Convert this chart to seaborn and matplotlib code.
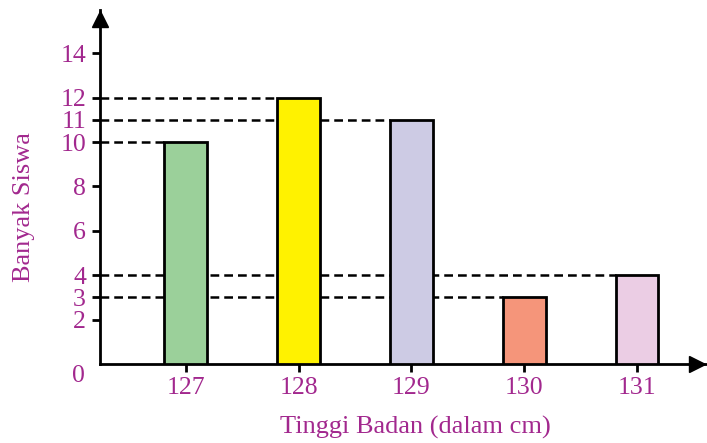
import matplotlib.pyplot as plt
import seaborn as sns
import pandas as pd

# Data
heights = ['127', '128', '129', '130', '131']
students = [10, 12, 11, 3, 4]
bar_colors = ['#9bd09a', '#fff200', '#cdcbe4', '#f5957a', '#ebcde4']
ytick_values = [2, 3, 4, 6, 8, 10, 11, 12, 14]

text_color = '#a2288e'

sns.set_style('white')
plt.rcParams['font.family'] = ['Liberation Serif', 'DejaVu Serif']

df = pd.DataFrame({'tinggi': heights, 'banyak': students})

fig = plt.figure(figsize=(7.07, 4.43), dpi=100)
ax = fig.add_axes([100 / 707, 79 / 443, 607 / 707, 354 / 443])

sns.barplot(
    data=df, x='tinggi', y='banyak', hue='tinggi',
    palette=bar_colors, saturation=1, width=0.38, edgecolor='black', linewidth=2,
    legend=False, ax=ax, zorder=3,
)

# Dashed guide lines from the y axis to the left edge of each bar
for i, v in enumerate(students):
    ax.plot([-0.76, i - 0.19], [v, v], color='black', linestyle=(0, (3.5, 2)),
            linewidth=1.8, zorder=2, clip_on=False)

ax.set_xlim(-0.76, 4.62)
ax.set_ylim(0, 15.95)

# Axes with arrows
sns.despine(ax=ax, top=True, right=True)
for side in ['left', 'bottom']:
    ax.spines[side].set_linewidth(2)
    ax.spines[side].set_color('black')
ax.plot([-0.76], [15.55], marker='^', markersize=11, color='black', clip_on=False, zorder=5)
ax.plot([4.53], [0], marker='>', markersize=11, color='black', clip_on=False, zorder=5)

ax.set_yticks(ytick_values)
ax.set_yticklabels([str(v) for v in ytick_values])
ax.tick_params(axis='both', direction='out', length=6, width=2, color='black',
               labelcolor=text_color, labelsize=18.5, bottom=True, left=True)
ax.tick_params(axis='x', pad=3)
ax.tick_params(axis='y', pad=4)

# Zero label sits below the origin
ax.text(-0.955, -0.55, '0', color=text_color, fontsize=18.5, ha='center', va='center')

ax.set_xlabel('Tinggi Badan (dalam cm)', color=text_color, fontsize=19)
ax.set_ylabel('Banyak Siswa', color=text_color, fontsize=19)
ax.xaxis.set_label_coords(0.519, -0.148)
ax.yaxis.set_label_coords(-0.107, 0.443)

plt.savefig('out.png', dpi=100)
